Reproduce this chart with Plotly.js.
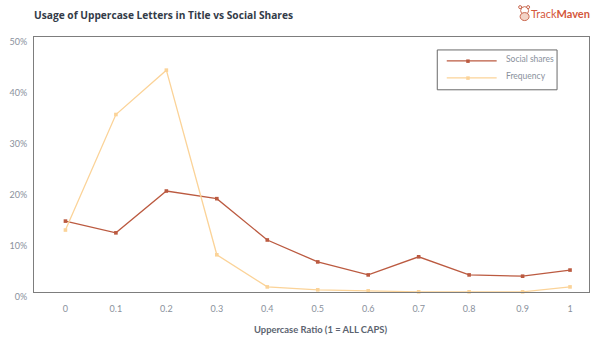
<!DOCTYPE html>
<html><head><meta charset="utf-8"><script src="https://cdn.plot.ly/plotly-3.0.0.min.js"></script>
<style>html,body{margin:0;padding:0;background:#fff}</style></head><body><div id="c" style="width:601px;height:353px"></div>
<script>
const ratioPositions=[0,0.1,0.2,0.3,0.4,0.5,0.6,0.7,0.8,0.906,1];
const ratioLabels=['0','0.1','0.2','0.3','0.4','0.5','0.6','0.7','0.8','0.9','1'];
const socialShares=[13.9,11.6,19.8,18.3,10.2,5.9,3.35,6.9,3.35,3.1,4.3];
const frequency=[12.15,34.8,43.5,7.3,1.0,0.43,0.23,0.04,0.04,0.04,1.0];
const yTicks=[0,10,20,30,40,50];
const socialColor='#bb5a40', freqColor='#fbd398';
const font='Lato, "Open Sans", sans-serif';
function series(name,y,color){return {type:'scatter',mode:'lines+markers',name,x:ratioPositions,y,cliponaxis:false,
 line:{color,width:1.3},marker:{color,size:3.6,symbol:'square'}};}
const x0=33.5,x1=589.5,y0=36.5,y1=292.5,w=601,h=353;
const xPerUnit=505.5;
const px=x=>(x-x0)/(x1-x0), py=y=>(y1-y)/(y1-y0);
const rect=(a,b,c,d,fill,line)=>({type:'rect',xref:'paper',yref:'paper',x0:px(a),x1:px(c),y0:py(b),y1:py(d),fillcolor:fill,line:line?{color:line,width:1}:{width:0}});
const seg=(a,b,c,d,color)=>({type:'line',xref:'paper',yref:'paper',x0:px(a),x1:px(c),y0:py(b),y1:py(d),line:{color,width:1.2}});
const oval=(a,b,c,d,fill,line)=>({type:'circle',xref:'paper',yref:'paper',x0:px(a),x1:px(c),y0:py(b),y1:py(d),fillcolor:fill,line:{color:line,width:1}});
const text=(x,y,t,size,color,family,anchor)=>({xref:'paper',yref:'paper',x:px(x),y:py(y),xanchor:anchor||'left',yanchor:'middle',showarrow:false,text:t,borderpad:0,borderwidth:0,font:{size,color,family}});
const logo='#c9684f';
Plotly.newPlot('c',[series('Social shares',socialShares,socialColor),series('Frequency',frequency,freqColor)],{
 width:w,height:h,margin:{l:x0,r:w-x1,t:y0,b:h-y1,pad:0},paper_bgcolor:'#fff',plot_bgcolor:'#fff',showlegend:false,
 font:{family:font,color:'#7f8794',size:9},
 xaxis:{range:[(x0-65)/xPerUnit,(x1-65)/xPerUnit],tickmode:'array',tickvals:ratioPositions,ticktext:ratioLabels,ticks:'',showgrid:false,zeroline:false,
  showline:true,mirror:true,linecolor:'#7d7d7d',linewidth:1,ticklabelstandoff:8,tickfont:{size:9,color:'#8a919c',family:font}},
 yaxis:{range:[0,50],tickmode:'array',tickvals:yTicks,ticktext:yTicks.map(v=>v+'%'),ticks:'',showgrid:false,zeroline:false,
  showline:true,mirror:true,linecolor:'#7d7d7d',linewidth:1,ticklabelshift:5,ticklabelstandoff:4,tickfont:{size:9,color:'#8a919c',family:font}},
 shapes:[
  rect(437.5,49.5,557.5,89.5,'#fff','#6a6a6a'),
  seg(447,60.5,497,60.5,socialColor),rect(466.5,59,470,62.5,socialColor),
  seg(447,77.5,497,77.5,freqColor),rect(466.5,76,470,79.5,freqColor),
  oval(521,6,529,14,'#fff',logo),oval(519,5,522,8,'#fff',logo),oval(527,5,530,8,'#fff',logo),
  oval(520.5,12,529.5,20,'#f3d3c6',logo)
 ],
 annotations:[
  text(33,14,'<b>Usage of Uppercase Letters in Title vs Social Shares</b>',10.2,'#333b48','"Open Sans", sans-serif'),
  text(531,13,'Track<b>Maven</b>',11,'#d4583c',font),
  text(506,59,'Social shares',8.5,'#8a919c',font),
  text(506,76,'Frequency',8.5,'#8a919c',font),
  text(320.5,330,'<b>Uppercase Ratio (1 = ALL CAPS)</b>',9.4,'#5c6470',font,'center')
 ]
},{displayModeBar:false,staticPlot:true});
</script></body></html>
